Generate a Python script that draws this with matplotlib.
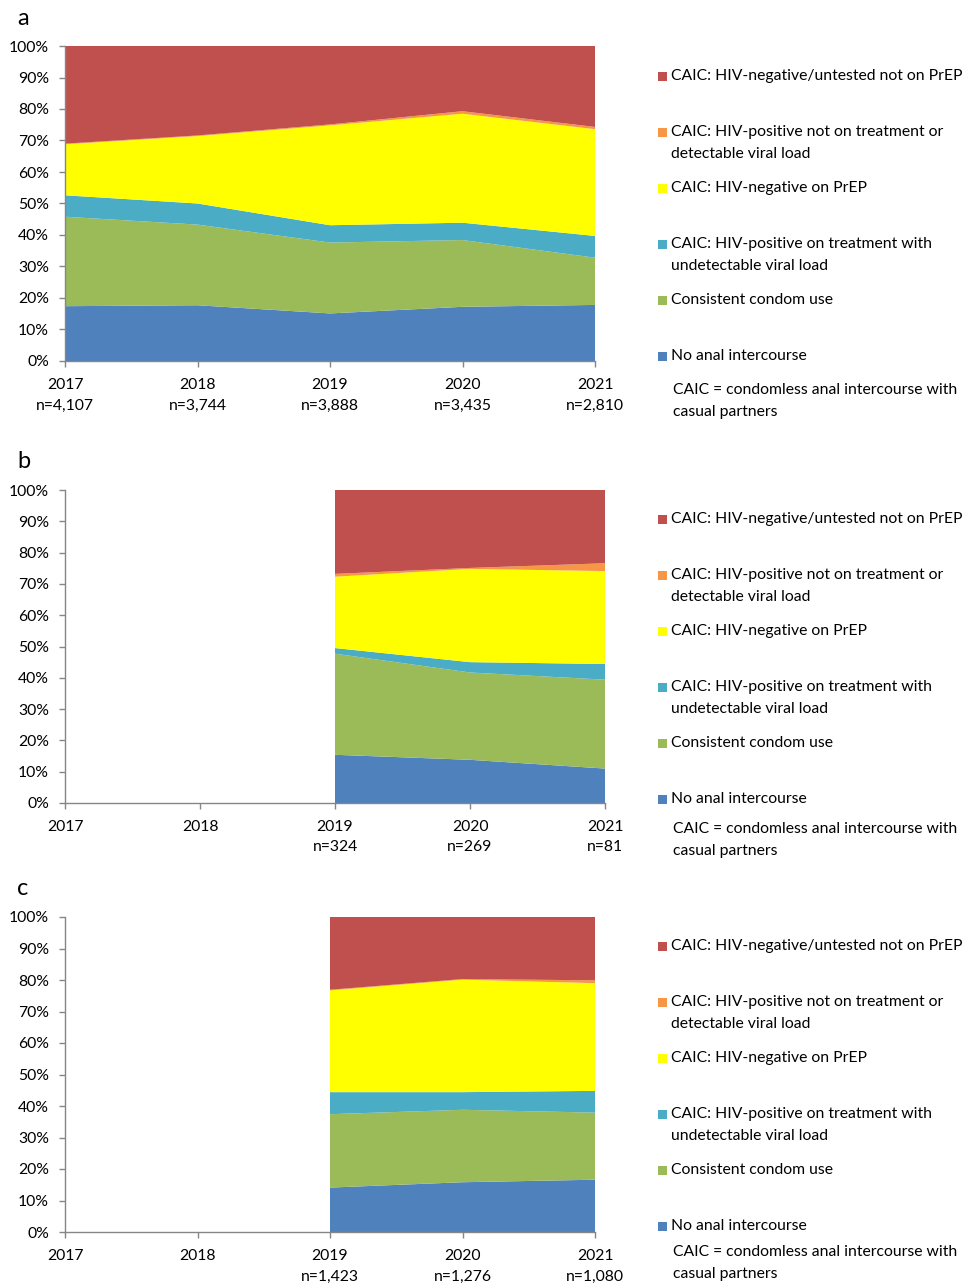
import numpy as np
import matplotlib
matplotlib.use("Agg")
import matplotlib.pyplot as plt
from matplotlib.patches import Rectangle

plt.rcParams['font.family'] = ['Lato', 'DejaVu Sans']

W, H = 979, 1286

years = [2017, 2018, 2019, 2020, 2021]

# Panel a: percentage of respondents in each category
a_no_anal = [17.4, 17.7, 15.1, 17.2, 17.8]
a_condom = [28.4, 25.6, 22.5, 21.2, 15.0]
a_pos_undetect = [6.8, 6.7, 5.5, 5.5, 6.9]
a_neg_prep = [16.2, 21.4, 31.7, 34.6, 33.9]
a_pos_detect = [0.2, 0.2, 0.3, 0.8, 0.7]
a_neg_noprep = [31.0, 28.4, 24.9, 20.7, 25.7]
a_n = ["n=4,107", "n=3,744", "n=3,888", "n=3,435", "n=2,810"]

# Panel b (no data before 2019)
b_no_anal = [None, None, 15.4, 13.8, 11.0]
b_condom = [None, None, 32.3, 27.9, 28.4]
b_pos_undetect = [None, None, 1.8, 3.3, 5.0]
b_neg_prep = [None, None, 22.8, 29.8, 29.7]
b_pos_detect = [None, None, 0.9, 0.3, 2.5]
b_neg_noprep = [None, None, 26.8, 24.9, 23.4]
b_n = ["", "", "n=324", "n=269", "n=81"]

# Panel c (no data before 2019)
c_no_anal = [None, None, 14.1, 15.8, 16.6]
c_condom = [None, None, 23.3, 23.0, 21.3]
c_pos_undetect = [None, None, 7.0, 5.6, 6.9]
c_neg_prep = [None, None, 32.3, 35.7, 34.2]
c_pos_detect = [None, None, 0.2, 0.2, 0.9]
c_neg_noprep = [None, None, 23.1, 19.7, 20.1]
c_n = ["", "", "n=1,423", "n=1,276", "n=1,080"]

labels = [
    "No anal intercourse",
    "Consistent condom use",
    "CAIC: HIV-positive on treatment with\nundetectable viral load",
    "CAIC: HIV-negative on PrEP",
    "CAIC: HIV-positive not on treatment or\ndetectable viral load",
    "CAIC: HIV-negative/untested not on PrEP",
]
colors = ["#4F81BD", "#9BBB59", "#4BACC6", "#FFFF00", "#F79646", "#C0504D"]
footnote = "CAIC = condomless anal intercourse with\ncasual partners"

panels = [
    ("a", [a_no_anal, a_condom, a_pos_undetect, a_neg_prep, a_pos_detect, a_neg_noprep], a_n,
     (65, 595, 46, 361), 25, 76, 390),
    ("b", [b_no_anal, b_condom, b_pos_undetect, b_neg_prep, b_pos_detect, b_neg_noprep], b_n,
     (65, 605, 490, 803), 468, 519, 829),
    ("c", [c_no_anal, c_condom, c_pos_undetect, c_neg_prep, c_pos_detect, c_neg_noprep], c_n,
     (65, 595, 917, 1232), 895, 946, 1252),
]

fig = plt.figure(figsize=(W / 100, H / 100), dpi=100)
spine_col = "#868686"
fs = 11.3


def fy(py):
    return 1 - py / H


def fx(px):
    return px / W


for letter, series, nlabels, (l, r, t, b), lab_y, leg_y, foot_y in panels:
    ax = fig.add_axes([l / W, 1 - b / H, (r - l) / W, (b - t) / H])
    valid = [i for i in range(len(years)) if series[0][i] is not None]
    xs = [years[i] for i in valid]
    ys = [[s[i] for i in valid] for s in series]
    ax.stackplot(xs, *ys, colors=colors, linewidth=0)
    ax.set_xlim(2017, 2021)
    ax.set_ylim(0, 100)
    ax.set_yticks(range(0, 101, 10))
    ax.set_yticklabels([f"{v}%" for v in range(0, 101, 10)], fontsize=fs)
    ax.set_xticks(years)
    xt = [f"{y}\n{n}" if n else f"{y}" for y, n in zip(years, nlabels)]
    ax.set_xticklabels(xt, fontsize=fs, linespacing=1.55, va="top")
    for side in ("top", "right"):
        ax.spines[side].set_visible(False)
    for side in ("left", "bottom"):
        ax.spines[side].set_color(spine_col)
        ax.spines[side].set_linewidth(1.0)
    ax.tick_params(axis="y", direction="out", length=4.5, width=1.0, color=spine_col, pad=7)
    ax.tick_params(axis="x", direction="out", length=4.5, width=1.0, color=spine_col, pad=8)

    # panel letter
    fig.text(fx(17), fy(lab_y), letter, fontsize=17, va="baseline", ha="left")

    # legend, top entry first
    step = 56
    for k, idx in enumerate(range(len(labels) - 1, -1, -1)):
        yc = leg_y + k * step
        fig.patches.append(Rectangle((fx(658), fy(yc + 4.5)), 9 / W, 9 / H,
                                     transform=fig.transFigure, facecolor=colors[idx],
                                     edgecolor="none"))
        for j, line in enumerate(labels[idx].split("\n")):
            fig.text(fx(671), fy(yc + j * 22), line, fontsize=fs, va="center", ha="left")
    for j, line in enumerate(footnote.split("\n")):
        fig.text(fx(673), fy(foot_y + j * 22), line, fontsize=fs, va="center", ha="left")

fig.savefig("out.png", dpi=100)
